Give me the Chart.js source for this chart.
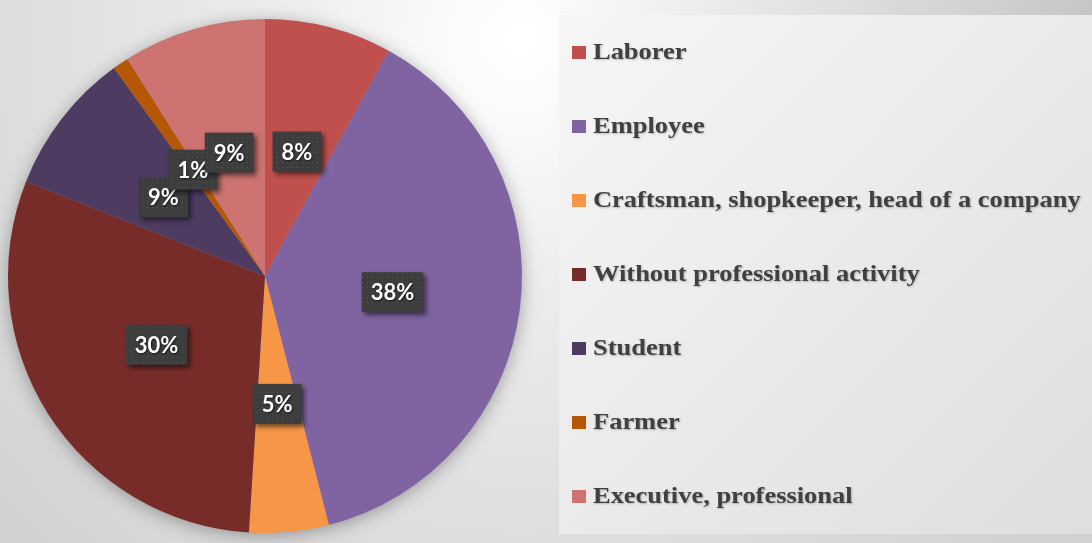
<!DOCTYPE html>
<html>
<head>
<meta charset="utf-8">
<script src="https://cdn.jsdelivr.net/npm/chart.js@4"></script>
<style>
  html, body { margin: 0; padding: 0; background: #e2e2e2; }
  #wrap { width: 1092px; height: 543px; }
</style>
</head>
<body>
<div id="wrap"><canvas id="occupationChart" width="1092" height="543"></canvas></div>
<script>
var categories = ['Laborer', 'Employee', 'Craftsman, shopkeeper, head of a company',
    'Without professional activity', 'Student', 'Farmer', 'Executive, professional'];
var shares = [8, 38, 5, 30, 9, 1, 9];
var sliceColors = ['#C0504D', '#8064A2', '#F79646', '#772C2A', '#4D3B62', '#B65708', '#CD7371'];

// dotted fill used for the value boxes
function dotPattern(ctx) {
    var c = document.createElement('canvas');
    c.width = 5; c.height = 5;
    var p = c.getContext('2d');
    p.fillStyle = '#3d3d3d';
    p.fillRect(0, 0, 5, 5);
    p.fillStyle = '#555555';
    p.fillRect(2, 2, 1, 1);
    return ctx.createPattern(c, 'repeat');
}

var backdrop = {
    id: 'backdrop',
    beforeDraw: function (chart) {
        var ctx = chart.ctx, w = chart.width, h = chart.height;
        ctx.save();
        var g = ctx.createRadialGradient(520, 40, 10, 520, 40, 700);
        g.addColorStop(0, '#ffffff');
        g.addColorStop(0.35, '#ececec');
        g.addColorStop(1, '#d2d2d2');
        ctx.fillStyle = g;
        ctx.fillRect(0, 0, w, h);
        // strip above the legend panel
        var t = ctx.createLinearGradient(560, 0, w, 0);
        t.addColorStop(0, '#fafafa');
        t.addColorStop(1, '#c6c6c6');
        ctx.fillStyle = t;
        ctx.fillRect(560, 0, w - 560, 15);
        // legend panel
        var lg = ctx.createLinearGradient(560, 15, w, 535);
        lg.addColorStop(0, '#f6f6f6');
        lg.addColorStop(1, '#dedede');
        ctx.fillStyle = lg;
        ctx.fillRect(559, 15, w - 559, 519);
        ctx.restore();
    },
    beforeDatasetsDraw: function (chart) {
        var ctx = chart.ctx;
        ctx.save();
        ctx.shadowColor = 'rgba(0,0,0,0.35)';
        ctx.shadowBlur = 18;
        ctx.shadowOffsetY = 3;
        var arc = chart.getDatasetMeta(0).data[0];
        ctx.fillStyle = '#999';
        ctx.beginPath();
        ctx.arc(arc.x, arc.y, arc.outerRadius - 1, 0, Math.PI * 2);
        ctx.fill();
        ctx.restore();
    }
};

var valueBoxes = {
    id: 'valueBoxes',
    afterDatasetsDraw: function (chart) {
        var ctx = chart.ctx;
        var meta = chart.getDatasetMeta(0);
        var fill = dotPattern(ctx);
        ctx.save();
        ctx.font = 'bold 22px Lato';
        ctx.textAlign = 'center';
        ctx.textBaseline = 'middle';
        meta.data.forEach(function (arc, i) {
            var pos = arc.tooltipPosition();
            var text = shares[i] + '%';
            var bw = ctx.measureText(text).width + 18, bh = 40;
            ctx.save();
            ctx.shadowColor = 'rgba(0,0,0,0.55)';
            ctx.shadowBlur = 5;
            ctx.shadowOffsetX = 3;
            ctx.shadowOffsetY = 3;
            ctx.fillStyle = fill;
            ctx.fillRect(pos.x - bw / 2, pos.y - bh / 2, bw, bh);
            ctx.restore();
            ctx.save();
            ctx.shadowColor = 'rgba(0,0,0,0.6)';
            ctx.shadowBlur = 2;
            ctx.shadowOffsetX = 1;
            ctx.shadowOffsetY = 1;
            ctx.fillStyle = '#ffffff';
            ctx.fillText(text, pos.x, pos.y + 1);
            ctx.restore();
        });
        ctx.restore();
    }
};

var sideLegend = {
    id: 'sideLegend',
    afterDraw: function (chart) {
        var ctx = chart.ctx;
        var top = 52, step = 74;
        ctx.save();
        ctx.font = 'bold 23px "Liberation Serif"';
        ctx.textBaseline = 'middle';
        categories.forEach(function (name, i) {
            var y = top + i * step;
            ctx.fillStyle = sliceColors[i];
            ctx.fillRect(572, y - 6, 14, 13);
            ctx.save();
            ctx.translate(593, y + 1);
            ctx.scale(1.15, 1);
            ctx.shadowColor = 'rgba(0,0,0,0.25)';
            ctx.shadowBlur = 2;
            ctx.shadowOffsetX = 1;
            ctx.shadowOffsetY = 1;
            ctx.fillStyle = '#404040';
            ctx.fillText(name, 0, 0);
            ctx.restore();
        });
        ctx.restore();
    }
};

var ctx = document.getElementById('occupationChart').getContext('2d');
new Chart(ctx, {
    type: 'pie',
    data: {
        labels: categories,
        datasets: [{
            data: shares,
            backgroundColor: sliceColors,
            borderWidth: 0
        }]
    },
    options: {
        responsive: false,
        animation: false,
        layout: { padding: { left: 8, right: 570, top: 19, bottom: 10 } },
        plugins: {
            legend: { display: false },
            tooltip: { enabled: false }
        }
    },
    plugins: [backdrop, valueBoxes, sideLegend]
});
</script>
</body>
</html>
